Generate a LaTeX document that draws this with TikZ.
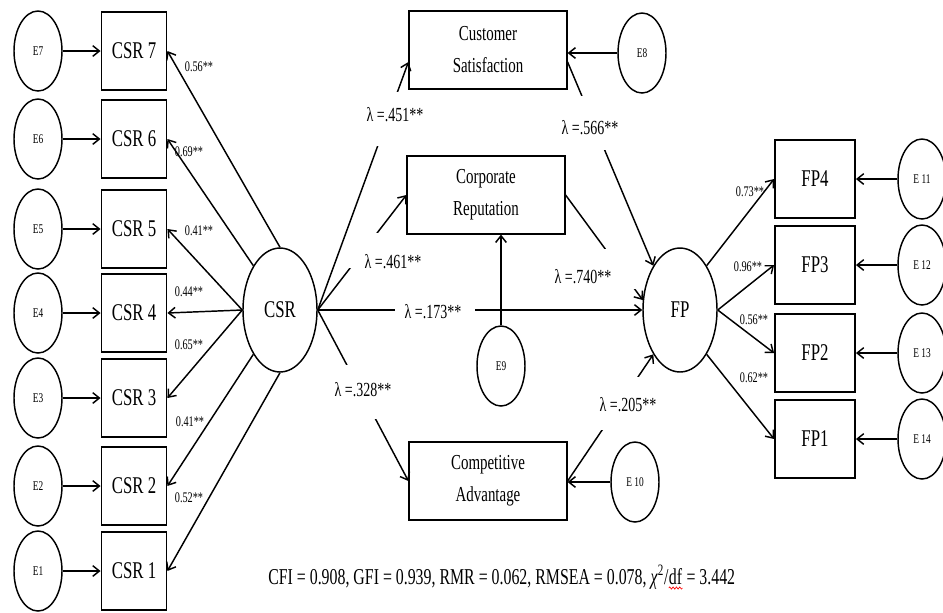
\documentclass[tikz,border=0pt]{standalone}
\usepackage{fontspec}
\setmainfont[FakeStretch=0.7]{Liberation Serif}
\usetikzlibrary{shapes.geometric,arrows.meta,decorations.pathmorphing}

\tikzset{
  obs/.style={draw, line width=1.4pt, minimum width=48.75pt, minimum height=58.5pt,
    inner sep=0pt, font=\fontsize{18}{20}\selectfont},
  fpbox/.style={obs, minimum width=60pt},
  midbox/.style={draw, line width=1.4pt, minimum width=118pt, minimum height=58pt,
    inner sep=0pt, align=center, font=\fontsize{16}{24}\selectfont},
  err/.style={ellipse, draw, line width=1.1pt, minimum width=36pt, minimum height=60pt,
    inner sep=0pt, font=\fontsize{10}{12}\selectfont},
  lat/.style={ellipse, draw, line width=1.1pt, minimum width=55.5pt, minimum height=93pt,
    inner sep=0pt, font=\fontsize{18}{20}\selectfont},
  arr/.style={->, line width=1.1pt},
  gapbox/.style={fill=white, minimum width=60pt, minimum height=40pt, inner sep=0pt},
  ld/.style={font=\fontsize{11}{12}\selectfont, inner sep=1pt},
  lam/.style={font=\fontsize{15}{16}\selectfont, inner sep=1pt},
  fitidx/.style={font=\fontsize{17}{18}\selectfont, inner sep=0pt, anchor=base west}
}

\begin{document}
\begin{tikzpicture}[x=0.75pt, y=-0.75pt, >={Straight Barb[length=5pt,width=8pt]}]
    \useasboundingbox (0,0) rectangle (943,612);

    % Indicadores de CSR e seus erros
    \node[obs] (c7) at (134,51) {CSR 7};
    \node[obs] (c6) at (134,139) {CSR 6};
    \node[obs] (c5) at (134,229) {CSR 5};
    \node[obs] (c4) at (134,313) {CSR 4};
    \node[obs] (c3) at (134,398) {CSR 3};
    \node[obs] (c2) at (134,486) {CSR 2};
    \node[obs] (c1) at (134,571) {CSR 1};
    \node[err] (e7) at (38,51) {E7};
    \node[err] (e6) at (38,139) {E6};
    \node[err] (e5) at (38,229) {E5};
    \node[err] (e4) at (38,313) {E4};
    \node[err] (e3) at (38,398) {E3};
    \node[err] (e2) at (38,486) {E2};
    \node[err] (e1) at (38,571) {E1};

    % Variáveis latentes
    \node[lat] (csr) at (280,310) {CSR};
    \node[lat] (fp) at (680,310) {FP};

    % Mediadores
    \node[midbox] (cs) at (488,50) {Customer\\Satisfaction};
    \node[midbox] (cr) at (486,195) {Corporate\\Reputation};
    \node[midbox] (ca) at (488,481) {Competitive\\Advantage};
    \node[err] (e8) at (642,53) {E8};
    \node[err] (e9) at (501,366) {E9};
    \node[err] (e10) at (635,482) {E 10};

    % Indicadores de FP e seus erros
    \node[fpbox] (f4) at (815,179) {FP4};
    \node[fpbox] (f3) at (815,265) {FP3};
    \node[fpbox] (f2) at (815,353) {FP2};
    \node[fpbox] (f1) at (815,439) {FP1};
    \node[err] (e11) at (922,179) {E 11};
    \node[err] (e12) at (922,265) {E 12};
    \node[err] (e13) at (922,353) {E 13};
    \node[err] (e14) at (922,439) {E 14};

    % Setas dos erros
    \draw[arr] (e7) -- (c7);
    \draw[arr] (e6) -- (c6);
    \draw[arr] (e5) -- (c5);
    \draw[arr] (e4) -- (c4);
    \draw[arr] (e3) -- (c3);
    \draw[arr] (e2) -- (c2);
    \draw[arr] (e1) -- (c1);
    \draw[arr] (e11) -- (f4);
    \draw[arr] (e12) -- (f3);
    \draw[arr] (e13) -- (f2);
    \draw[arr] (e14) -- (f1);
    \draw[arr] (e8.west) -- (e8.west -| cs.east);
    \draw[arr] (e9.north) -- (e9.north |- cr.south);
    \draw[arr] (e10.west) -- (e10.west -| ca.east);

    % Cargas fatoriais
    \draw[arr] (csr.north) -- (c7.east);
    \draw[arr] (csr.north west) -- (c6.east);
    \draw[arr] (csr.west) -- (c5.east);
    \draw[arr] (csr.west) -- (c4.east);
    \draw[arr] (csr.west) -- (c3.east);
    \draw[arr] (csr.south west) -- (c2.east);
    \draw[arr] (csr.south) -- (c1.east);
    \draw[arr] (fp.north east) -- (f4.west);
    \draw[arr] (fp.east) -- (f3.west);
    \draw[arr] (fp.east) -- (f2.west);
    \draw[arr] (fp.south east) -- (f1.west);

    % Caminhos estruturais (interrompidos nos rótulos)
    \draw[arr] (csr.east) -- node[gapbox, pos=0.77] {} ([yshift=-9pt]cs.west);
    \draw[arr] (csr.east) -- node[gapbox, pos=0.52, minimum width=26pt, minimum height=26pt] {} (cr.west);
    \draw[arr] (csr.east) -- node[gapbox, pos=0.36] {} (fp.west);
    \draw[arr] (csr.east) -- node[gapbox, pos=0.48] {} (ca.west);
    \draw[arr] ([yshift=-9pt]cs.east) -- node[gapbox, pos=0.30] {} (fp.north west);
    \draw[arr] (cr.east) -- node[gapbox, pos=0.70, minimum width=26pt, minimum height=30pt] {} (fp.165);
    \draw[arr] (ca.east) -- node[gapbox, pos=0.61] {} (fp.south west);

    % Rótulos dos caminhos
    \node[lam] (l451) at (395,115) {λ =.451**};
    \node[lam] (l461) at (393,262) {λ =.461**};
    \node[lam] (l173) at (433,312) {λ =.173**};
    \node[lam] (l328) at (363,390) {λ =.328**};
    \node[lam] (l566) at (590,128) {λ =.566**};
    \node[lam] (l740) at (583,277) {λ =.740**};
    \node[lam] (l205) at (628,405) {λ =.205**};

    % Rótulos das cargas
    \node[ld] (w7) at (199,67) {0.56**};
    \node[ld] (w6) at (189,152) {0.69**};
    \node[ld] (w5) at (199,231) {0.41**};
    \node[ld] (w4) at (189,292) {0.44**};
    \node[ld] (w3) at (189,345) {0.65**};
    \node[ld] (w2) at (190,422) {0.41**};
    \node[ld] (w1) at (189,498) {0.52**};
    \node[ld] (v4) at (750,192) {0.73**};
    \node[ld] (v3) at (748,267) {0.96**};
    \node[ld] (v2) at (754,320) {0.56**};
    \node[ld] (v1) at (754,378) {0.62**};

    % Índices de ajuste
    \node[fitidx] (fit) at (268,584)
      {CFI = 0.908, GFI = 0.939, RMR = 0.062, RMSEA = 0.078, \textit{χ}\textsuperscript{2}/};
    \node[fitidx] (df) at (fit.base east) {df};
    \node[fitidx] (chi) at (df.base east) {\,= 3.442};
    \draw[red, line width=0.5pt, decorate, decoration={snake, amplitude=0.8pt, segment length=2.5pt}]
      ([yshift=-3pt]df.base west) -- ([yshift=-3pt]df.base east);
  \end{tikzpicture}
\end{document}
